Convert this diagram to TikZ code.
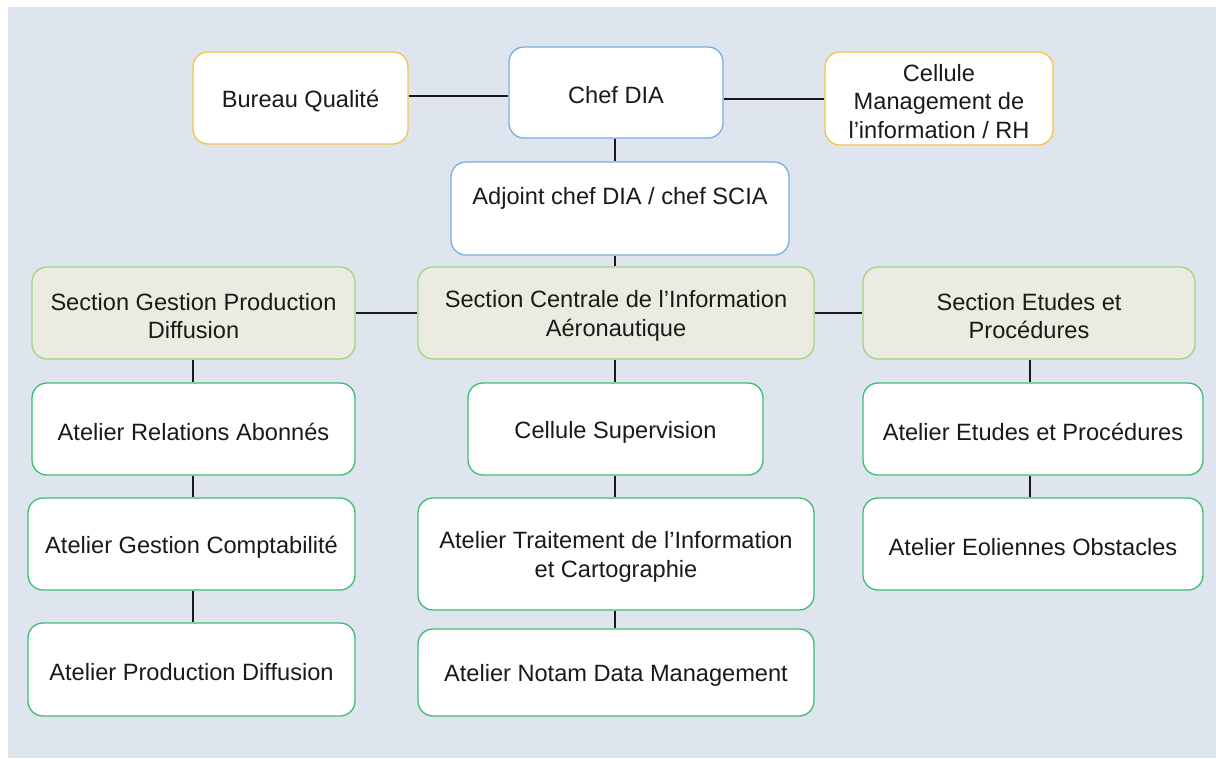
\documentclass[tikz,border=0pt]{standalone}
\usepackage{fontspec}
\setmainfont{Liberation Sans}
\definecolor{bgc}{HTML}{DEE5EE}
\definecolor{yel}{HTML}{F5C443}
\definecolor{blu}{HTML}{78AEE0}
\definecolor{secfill}{HTML}{ECEBE1}
\definecolor{secline}{HTML}{A3D47E}
\definecolor{grn}{HTML}{3DBD72}
\definecolor{txt}{HTML}{1A1A1A}
\tikzset{
  box/.style={draw, line width=1.3pt, rounded corners=15pt, fill=white, inner sep=0pt},
  ybox/.style={box, draw=yel},
  bbox/.style={box, draw=blu},
  sbox/.style={box, draw=secline, fill=secfill},
  gbox/.style={box, draw=grn},
  lbl/.style={align=center, text=txt, inner sep=0pt, yshift=-3pt,
    font=\fontsize{23.6}{28.5}\selectfont},
  conn/.style={draw=black!90, line width=2pt}
}
\begin{document}
\begin{tikzpicture}[x=1pt,y=-1pt]
\useasboundingbox (0,0) rectangle (1216,758);
\fill[bgc] (8,7) rectangle (1216,758);

\node[ybox, minimum width=215pt, minimum height=92pt, label={[lbl]center:{Bureau Qualité}}] (bq) at (300.5,98) {};
\node[bbox, minimum width=214pt, minimum height=91pt, label={[lbl]center:{Chef DIA}}] (chef) at (616,92.5) {};
\node[ybox, minimum width=228pt, minimum height=93pt, label={[lbl]center:{Cellule\\Management de\\l’information / RH}}] (cell) at (939,98.5) {};
\node[bbox, minimum width=338pt, minimum height=93pt, label={[lbl, yshift=13pt]center:{Adjoint chef DIA / chef SCIA}}] (adj) at (620,208.5) {};

\node[sbox, minimum width=323pt, minimum height=92pt, label={[lbl]center:{Section Gestion Production\\Diffusion}}] (sg) at (193.5,313) {};
\node[sbox, minimum width=396pt, minimum height=92pt, label={[lbl]center:{Section Centrale de l’Information\\Aéronautique}}] (sc) at (616,313) {};
\node[sbox, minimum width=332pt, minimum height=92pt, label={[lbl]center:{Section Etudes et\\Procédures}}] (se) at (1029,313) {};

\node[gbox, minimum width=323pt, minimum height=92pt, label={[lbl]center:{Atelier Relations Abonnés}}] (ar) at (193.5,429) {};
\node[gbox, minimum width=295pt, minimum height=92pt, label={[lbl]center:{Cellule Supervision}}] (cs) at (615.5,429) {};
\node[gbox, minimum width=340pt, minimum height=92pt, label={[lbl]center:{Atelier Etudes et Procédures}}] (ae) at (1033,429) {};

\node[gbox, minimum width=327pt, minimum height=92pt, label={[lbl]center:{Atelier Gestion Comptabilité}}] (agc) at (191.5,544) {};
\node[gbox, minimum width=396pt, minimum height=112pt, label={[lbl]center:{Atelier Traitement de l’Information\\et Cartographie}}] (at) at (616,554) {};
\node[gbox, minimum width=340pt, minimum height=92pt, label={[lbl]center:{Atelier Eoliennes Obstacles}}] (aeo) at (1033,544) {};

\node[gbox, minimum width=327pt, minimum height=93pt, label={[lbl]center:{Atelier Production Diffusion}}] (apd) at (191.5,669.5) {};
\node[gbox, minimum width=396pt, minimum height=87pt, label={[lbl]center:{Atelier Notam Data Management}}] (an) at (616,672.5) {};

% connectors
\coordinate (cx) at (615,0);
\coordinate (lx) at (193,0);
\coordinate (rx) at (1030,0);
\draw[conn] ([yshift=2pt]bq.east) -- ([yshift=2pt]bq.east -| chef.west);
\draw[conn] (cell.west -| chef.east) -- (cell.west);
\draw[conn] (cx |- chef.south) -- (cx |- adj.north);
\draw[conn] (cx |- adj.south) -- (cx |- sc.north);
\draw[conn] (sg.east) -- (sc.west);
\draw[conn] (sc.east) -- (se.west);
\draw[conn] (lx |- sg.south) -- (lx |- ar.north);
\draw[conn] (lx |- ar.south) -- (lx |- agc.north);
\draw[conn] (lx |- agc.south) -- (lx |- apd.north);
\draw[conn] (cx |- sc.south) -- (cx |- cs.north);
\draw[conn] (cx |- cs.south) -- (cx |- at.north);
\draw[conn] (cx |- at.south) -- (cx |- an.north);
\draw[conn] (rx |- se.south) -- (rx |- ae.north);
\draw[conn] (rx |- ae.south) -- (rx |- aeo.north);
\end{tikzpicture}
\end{document}
